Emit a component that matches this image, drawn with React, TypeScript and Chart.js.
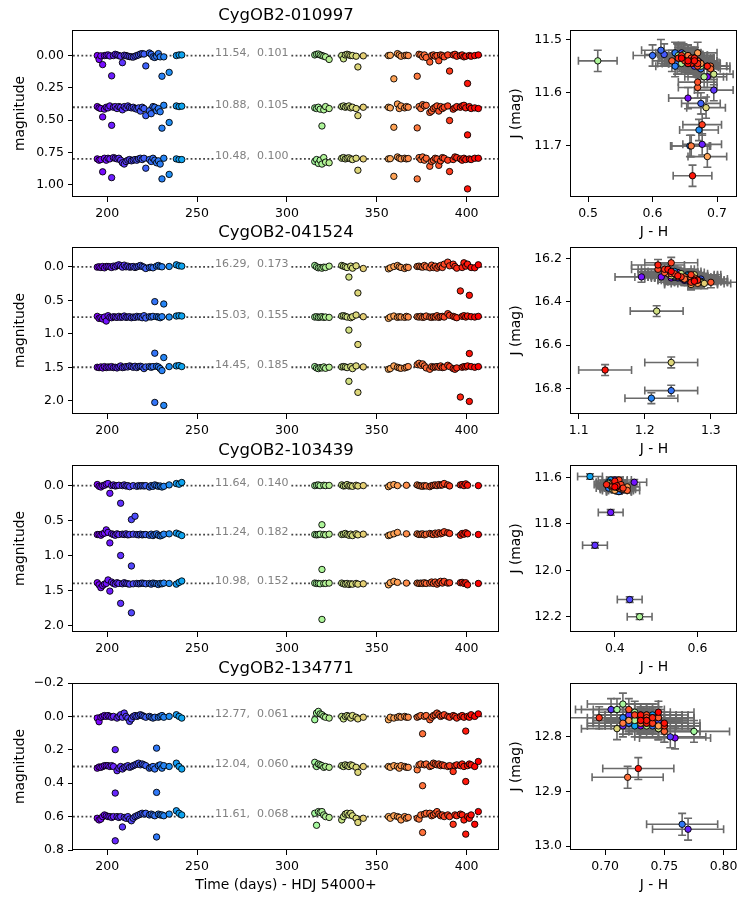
import React, { useEffect, useRef } from 'react';
import { Chart, registerables } from 'chart.js';
Chart.register(...registerables);

const FONT = "'DejaVu Sans', sans-serif";
Chart.defaults.font.family = FONT;

// ---------------- DATA ----------------
const STAR_NAMES = ['CygOB2-010997', 'CygOB2-041524', 'CygOB2-103439', 'CygOB2-134771'];

// observation epochs (days, HJD 54000+)
const TIMES = [
  194.5, 195.5, 196.5, 197.5, 198.5, 199.5, 200.5, 201.5, 202.5, 203.5,
  204.5, 205.5, 206.5, 207.5, 208.5, 209.5, 210.5, 211.5, 212.5, 213.5,
  214.5, 215.5, 216.5, 217.5, 218.5, 219.5, 220.5, 221.5, 223.5, 224.5,
  225.5, 226.5, 227.5, 228.5, 229.5, 230.5, 231.5, 234.5, 238.5, 240.0,
  241.5,
  315.5, 316.5, 317.5, 318.5, 319.5, 320.5, 321.5, 323.5, 330.5, 331.5,
  332.5, 333.5, 334.5, 335.5, 336.5, 338.5, 339.5, 342.5,
  356.5, 357.5, 359.5, 361.5, 362.5, 363.5, 365.5, 366.5, 367.5, 372.5,
  373.5, 374.5, 375.5, 376.5, 377.5, 379.5, 380.5, 381.5, 382.5, 383.5,
  384.5, 385.5, 386.5, 387.5, 389.5, 390.5, 392.5, 393.5, 394.5, 396.5,
  397.5, 398.5, 399.5, 400.5, 401.5, 402.5, 404.5, 406.5,
];

// magnitude relative to median, in mmag (positive = fainter); null = no measurement
const J_010997 = [
  0, 30, 2, 70, 0, -2, -5, 3, 157, 0, -10, -5, 0, 5, 55, -3, 0, 5, 8, 10, 12, 5, 0, -5, -12, -15, -12, 80, -20, -10, 10, 15, 5, -15, 10, 160, 10, 130, 0, -5, -5,
  -5, -10, -12, -5, 0, 5, 10, 30, 0, 25, -5, -10, -5, 0, 0, 5, 88, 2,
  0, -2, 180, -15, -5, 5, 0, -3, 0, 160, -10, -5, 10, -5, 15, 50, 0, -5, 5, 0, 40, -5, 0, 10, -5, 120, -5, -10, 5, 0, -5, 10, 5, 216, 0, 5, 0, -5,
];
const H_010997 = [
  -5, 5, 10, 75, 15, 0, 5, -10, 140, 0, -5, 10, -5, 0, 20, -5, 5, -10, 0, 5, 0, 10, 15, 5, 30, 0, 10, 65, 27, 50, -5, 0, 27, 10, 35, 162, -15, 118, -10, -5, -8,
  5, 10, 0, 15, 145, 20, -5, 10, -5, -10, 0, -5, -10, 5, 0, 10, 65, 0,
  0, 5, 155, -25, 10, -10, 5, -5, 0, 160, -5, 10, -20, -10, -15, 40, 30, 10, 0, -10, 30, -5, 10, 0, -10, 103, 15, 5, -5, 0, -10, -15, 5, 214, -5, 10, 5, 10,
];
const K_010997 = [
  0, 10, 5, 100, -5, 10, -5, 0, 145, -10, -5, 0, -5, 10, 30, 40, 20, 10, 5, 15, 10, 5, 10, 0, -5, 5, -5, 72, 5, 20, -5, 10, 30, 15, 40, 155, -5, 120, 0, 5, 5,
  20, 5, 35, 10, 40, -10, 25, 30, -5, -10, 0, -5, -8, 0, 5, -5, 88, 0,
  0, -2, 135, -15, -5, 0, -5, 0, -3, 155, -10, 5, -15, 10, -5, 57, 20, 10, -5, 0, 50, 15, -10, -5, 10, 98, 5, -15, -10, 0, 10, -5, 5, 232, 0, 5, -5, -5,
];

const J_041524 = [
  5, 0, 10, -5, 15, -5, -5, 0, 10, -10, 0, -20, -30, -15, 5, -25, 0, -10, 5, 0, -5, 10, 0, -10, -20, -5, 5, 25, 10, 5, 15, 520, -10, -20, -5, 0, 555, -5, -30, -15, -10,
  -20, 0, 15, 10, 20, 5, 10, -10, -20, -10, 0, 10, 153, -10, 20, -15, 390, 25,
  30, 15, -5, -20, 0, 10, 25, 5, 10, -5, -10, 0, 5, -20, 0, 15, -25, 10, -10, 20, -5, -20, 10, -40, -70, -15, -40, -5, 20, 360, 10, -60, -10, -40, 425, 10, 15, -30,
];
const H_041524 = [
  -10, 20, 10, 30, 0, 60, -20, 5, 10, -5, 0, 5, -10, 5, 0, -15, 5, 0, -5, 10, 0, 5, -10, 0, -5, 10, -20, 15, -5, 0, -10, 540, -5, 0, 10, -5, 605, 0, -15, -20, -15,
  0, -5, 5, 0, -5, 5, 0, 5, -15, -20, -10, 0, 195, 10, -5, -30, 410, -5,
  20, 0, -15, 5, -5, 0, 5, -10, 0, -5, 0, -10, 5, 0, -15, 0, 5, -5, 0, -20, 5, -5, -10, 0, -50, -25, -10, 0, 10, null, -10, -20, 0, -15, 545, -5, 0, -10,
];
const K_041524 = [
  0, 5, -5, 10, -10, 5, -5, 0, -10, 5, 0, 10, -5, -20, 5, 0, -10, -5, -20, -10, 0, -15, 5, -10, -15, -5, 20, -5, -10, 0, -10, 525, -15, -5, 20, 50, 570, -10, -20, -25, -10,
  -10, 10, 20, 5, 10, -5, 15, 0, -5, -10, -5, 5, 210, -10, 20, -20, 375, -5,
  30, 20, -20, 0, 10, 15, 10, 0, -10, -40, -60, -30, -50, -20, 10, 30, -10, 0, -5, -10, 0, -20, 5, 0, -30, -10, 20, 30, 10, 445, 0, -10, -5, -20, 510, -10, 0, -10,
];

const J_103439 = [
  -15, 10, 20, 0, -5, -20, -30, 110, 0, -10, 5, 0, -5, 252, 0, -10, 5, 0, 15, 486, 0, 438, 10, 0, 5, 0, 5, 0, 20, 0, 10, -10, 0, 10, 5, 20, 10, -10, -30, -20, -45,
  0, -5, -10, 0, 560, -5, 0, -3, -10, 5, 0, -15, 5, 0, 10, -5, 5, 0,
  15, -5, -15, 0, null, null, null, -5, null, -10, 0, 5, 10, 0, 5, 15, 0, -5, -10, 0, -15, -5, -10, -30, -10, 5, null, null, null, -10, -15, 0, -25, -5, null, null, null, 0,
];
const H_103439 = [
  0, 0, 10, -10, -20, -67, -30, 120, -10, 0, 10, -10, 0, 300, -5, 0, -10, 5, 0, 450, -5, null, 0, 5, -5, 5, 0, 0, 10, -5, 15, 0, -10, 10, 20, 10, -5, -10, -20, -5, 15,
  0, 5, 0, -5, 500, 0, 5, -5, 0, -5, -15, 0, 10, -5, 15, -10, 5, -5,
  15, 5, -10, -30, null, null, null, -10, null, -10, 0, -5, -10, 5, -5, -15, -5, 0, -20, -5, -25, -10, -20, -40, -25, -15, null, null, null, 10, -15, -5, -25, -10, null, null, null, 0,
];
const K_103439 = [
  -10, 20, 60, 30, 10, 0, -50, 110, -20, 0, 10, -10, 0, 285, 5, -10, 0, 5, 10, 420, 5, null, 0, 5, 0, -5, 0, 5, 0, 10, -5, 0, 5, 15, 0, 5, -5, 0, 10, -15, -35,
  -5, 0, 0, 5, 515, 0, 0, -5, -5, 5, 10, 0, 15, 5, 10, 0, 10, 5,
  20, -10, -30, -15, null, null, null, -5, null, -5, 0, -5, 0, -10, 0, -5, -20, 0, -20, 10, -10, -30, -5, -30, -5, -10, null, null, null, -10, -15, 0, -10, 20, null, null, null, 0,
];

const J_134771 = [
  10, 32, 5, 0, -5, 0, -5, 0, 5, 0, 199, 10, 0, -10, 5, -20, 0, 10, 30, 15, 0, -5, 0, -5, -10, -5, 0, 5, 0, 5, 10, 5, 190, 5, 0, -5, 5, 0, -10, 0, 10,
  20, -20, -30, -15, -10, 0, 5, 10, 0, 15, 0, -5, 0, 10, -5, 5, 15, 5,
  20, 5, 10, 5, 0, 5, 0, 5, 5, 5, 0, -5, 104, 0, -5, 20, 5, -5, -10, -20, -10, 0, -5, -10, 0, 5, -5, 0, 10, 0, -5, 5, 88, 0, 5, -10, 0, -15,
];
const H_134771 = [
  10, 3, 5, 0, -5, -5, -5, 0, -5, 0, 159, 25, 10, 0, 15, 5, 0, -5, 5, 0, -5, -10, -15, -20, -10, -15, -10, -5, 10, 5, 0, 15, 155, -5, -10, 10, -5, 0, -20, 0, 15,
  -25, 0, -15, -10, -5, 5, 0, 5, -5, 0, -10, -5, 0, -10, -5, 5, 35, 0,
  0, 5, -5, 0, 10, -5, 0, 5, 5, 20, -10, -15, 115, -10, -15, 0, -5, -20, -15, -10, -15, -5, -10, -5, 0, -5, 30, -5, -10, -5, -15, 0, 90, -5, -15, -10, 0, -30,
];
const K_134771 = [
  10, 20, 15, 0, -10, -5, 0, 0, 5, 0, 145, 0, 5, 0, 62, 5, 10, 0, 15, 25, 10, 0, -5, -10, -15, -20, -15, -20, -10, -15, -10, -5, 122, -15, -10, -10, -5, -15, -35, -20, -10,
  -20, 52, -30, -25, -30, -10, 0, 5, 20, 0, -15, -20, -10, -20, -5, 10, 35, 10,
  0, 10, -5, 0, 5, 20, 0, 10, 5, 10, 15, -10, 95, -15, -20, -20, -5, -10, -20, -30, -15, -5, -10, 0, -10, 0, 46, -10, -5, -15, -10, 20, 105, 0, 10, -10, 46, -30,
];

const LC_J = [J_010997, J_041524, J_103439, J_134771];
const LC_H = [H_010997, H_041524, H_103439, H_134771];
const LC_K = [K_010997, K_041524, K_103439, K_134771];

// medians and scatter printed on the light curves
const MED_J = [11.54, 16.29, 11.64, 12.77];
const MED_H = [10.88, 15.03, 11.24, 12.04];
const MED_K = [10.48, 14.45, 10.98, 11.61];
const SIG_J = ['0.101', '0.173', '0.140', '0.061'];
const SIG_H = ['0.105', '0.155', '0.182', '0.060'];
const SIG_K = ['0.100', '0.185', '0.152', '0.068'];

// vertical offset between J, H, K light curves
const OFFSETS = [0.4, 0.75, 0.7, 0.3];

// photometric errors for colour-magnitude diagrams
const ERR_J = [0.02, 0.025, 0.012, 0.02];
const ERR_JH = [0.03, 0.04, 0.03, 0.03];

// axes
const LC_X_RANGE = [181, 418];
const LC_X_TICKS = [200, 250, 300, 350, 400];
const LC_X_LABELS = ['200', '250', '300', '350', '400'];
const LC_Y_RANGE = [[-0.198, 1.095], [-0.296, 2.198], [-0.295, 2.095], [-0.2, 0.8]];
const LC_Y_TICKS = [[0, 0.25, 0.5, 0.75, 1.0], [0, 0.5, 1, 1.5, 2], [0, 0.5, 1, 1.5, 2], [-0.2, 0, 0.2, 0.4, 0.6, 0.8]];
const LC_Y_LABELS = [
  ['0.00', '0.25', '0.50', '0.75', '1.00'],
  ['0.0', '0.5', '1.0', '1.5', '2.0'],
  ['0.0', '0.5', '1.0', '1.5', '2.0'],
  ['\u22120.2', '0.0', '0.2', '0.4', '0.6', '0.8'],
];
const LABEL_X = 260;

const CMD_X_RANGE = [[0.4735, 0.731], [1.0884, 1.3395], [0.294, 0.6955], [0.6712, 0.8113]];
const CMD_Y_RANGE = [[11.482, 11.796], [16.147, 16.918], [11.5455, 12.266], [12.7015, 13.007]];
const CMD_X_TICKS = [[0.5, 0.6, 0.7], [1.1, 1.2, 1.3], [0.4, 0.6], [0.7, 0.75, 0.8]];
const CMD_X_LABELS = [['0.5', '0.6', '0.7'], ['1.1', '1.2', '1.3'], ['0.4', '0.6'], ['0.70', '0.75', '0.80']];
const CMD_Y_TICKS = [[11.5, 11.6, 11.7], [16.2, 16.4, 16.6, 16.8], [11.6, 11.8, 12.0, 12.2], [12.8, 12.9, 13.0]];
const CMD_Y_LABELS = [['11.5', '11.6', '11.7'], ['16.2', '16.4', '16.6', '16.8'], ['11.6', '11.8', '12.0', '12.2'], ['12.8', '12.9', '13.0']];

// ---------------- LAYOUT / STYLE ----------------
const PLOT_TOPS = [30, 247, 465, 683];
const PLOT_H = 167;
const PAD_TOP = 28;
const CANVAS_H = 245;
const TICK_FONT = 12.5;
const LABEL_FONT = 13.9;
const TITLE_FONT = 16.5;

const T_MIN = Math.min(...TIMES);
const T_MAX = Math.max(...TIMES);
function rainbow(t: number): string {
  const f = (t - T_MIN) / (T_MAX - T_MIN);
  const r = Math.min(1, Math.abs(2 * f - 0.5));
  const g = Math.sin(Math.PI * f);
  const b = Math.cos((Math.PI * f) / 2);
  return `rgb(${Math.round(r * 255)},${Math.round(g * 255)},${Math.round(b * 255)})`;
}

function axis(opts: any) {
  const { min, max, ticks, labels, reverse, size, isY, title, titlePad } = opts;
  return {
    type: 'linear',
    min,
    max,
    reverse: !!reverse,
    afterBuildTicks: (s: any) => {
      s.ticks = ticks.map((v: number) => ({ value: v }));
    },
    afterFit: (s: any) => {
      if (isY) s.width = size;
      else s.height = size;
    },
    ticks: {
      autoSkip: false,
      maxRotation: 0,
      minRotation: 0,
      padding: 4,
      color: '#000',
      font: { family: FONT, size: TICK_FONT },
      callback: (_v: any, i: number) => labels[i],
    },
    grid: {
      display: true,
      drawOnChartArea: false,
      drawTicks: true,
      tickLength: 5,
      tickColor: '#000',
      tickWidth: 1,
    },
    border: { display: false },
    title: title
      ? {
          display: true,
          text: title,
          color: '#000',
          font: { family: FONT, size: LABEL_FONT },
          padding: isY ? { top: titlePad, bottom: 0 } : { top: 0, bottom: titlePad },
        }
      : { display: false },
  };
}

const framePlugin = {
  id: 'frame',
  afterDraw(chart: any) {
    const { ctx, chartArea: a } = chart;
    ctx.save();
    ctx.strokeStyle = '#000';
    ctx.lineWidth = 1;
    const l = Math.round(a.left) - 0.5;
    const t = Math.round(a.top) + 0.5;
    const r = Math.round(a.right) - 0.5;
    const b = Math.round(a.bottom) - 0.5;
    ctx.strokeRect(l, t, r - l, b - t);
    ctx.restore();
  },
};

function lcConfig(s: number, last: boolean) {
  const off = OFFSETS[s];
  const bands = [LC_J[s], LC_H[s], LC_K[s]];
  const datasets: any[] = [];
  bands.forEach((arr, b) => {
    const pts: any[] = [];
    const cols: string[] = [];
    arr.forEach((v: number | null, i: number) => {
      if (v === null) return;
      pts.push({ x: TIMES[i], y: v / 1000 + b * off });
      cols.push(rainbow(TIMES[i]));
    });
    datasets.push({
      data: pts,
      pointRadius: 3.2,
      pointBackgroundColor: cols,
      pointBorderColor: '#000',
      pointBorderWidth: 0.9,
      order: 1,
    });
  });
  for (let b = 0; b < 3; b++) {
    datasets.push({
      data: [
        { x: LC_X_RANGE[0], y: b * off },
        { x: LC_X_RANGE[1], y: b * off },
      ],
      showLine: true,
      borderColor: '#444',
      borderWidth: 1.8,
      borderDash: [1.8, 2.4],
      pointRadius: 0,
      order: 5,
    });
  }
  const texts = [
    `${MED_J[s].toFixed(2)},  ${SIG_J[s]}`,
    `${MED_H[s].toFixed(2)},  ${SIG_H[s]}`,
    `${MED_K[s].toFixed(2)},  ${SIG_K[s]}`,
  ];
  const labelPlugin = {
    id: 'lbl',
    afterDatasetsDraw(chart: any) {
      const { ctx, scales } = chart;
      ctx.save();
      ctx.font = `11px ${FONT}`;
      texts.forEach((txt, b) => {
        const px = scales.x.getPixelForValue(LABEL_X);
        const py = scales.y.getPixelForValue(b * off);
        const w = ctx.measureText(txt).width;
        ctx.fillStyle = '#fff';
        ctx.fillRect(px - 1, py - 9, w + 2, 11);
        ctx.fillStyle = '#808080';
        ctx.textBaseline = 'alphabetic';
        ctx.textAlign = 'left';
        ctx.fillText(txt, px, py + 0.5);
      });
      // title
      const a = chart.chartArea;
      ctx.fillStyle = '#000';
      ctx.font = `${TITLE_FONT}px ${FONT}`;
      ctx.textAlign = 'center';
      ctx.textBaseline = 'middle';
      ctx.fillText(STAR_NAMES[s], (a.left + a.right) / 2, a.top - 14);
      ctx.restore();
    },
  };
  return {
    type: 'scatter',
    data: { datasets },
    options: {
      responsive: false,
      animation: false,
      devicePixelRatio: 1,
      events: [],
      layout: { padding: { top: PAD_TOP, left: 0, right: 6, bottom: 0 } },
      plugins: { legend: { display: false }, tooltip: { enabled: false }, title: { display: false } },
      scales: {
        x: axis({
          min: LC_X_RANGE[0],
          max: LC_X_RANGE[1],
          ticks: LC_X_TICKS,
          labels: LC_X_LABELS,
          size: CANVAS_H - PAD_TOP - PLOT_H,
          isY: false,
          title: last ? 'Time (days) - HDJ 54000+' : null,
          titlePad: 6,
        }),
        y: axis({
          min: LC_Y_RANGE[s][0],
          max: LC_Y_RANGE[s][1],
          ticks: LC_Y_TICKS[s],
          labels: LC_Y_LABELS[s],
          reverse: true,
          size: 73,
          isY: true,
          title: 'magnitude',
          titlePad: 11.7,
        }),
      },
    },
    plugins: [labelPlugin, framePlugin],
  };
}

function cmdConfig(s: number) {
  const pts: any[] = [];
  const cols: string[] = [];
  TIMES.forEach((t, i) => {
    const j = LC_J[s][i];
    const h = LC_H[s][i];
    if (j === null || h === null) return;
    const J = MED_J[s] + j / 1000;
    const H = MED_H[s] + h / 1000;
    pts.push({ x: J - H, y: J });
    cols.push(rainbow(t));
  });
  const errPlugin = {
    id: 'err',
    beforeDatasetsDraw(chart: any) {
      const { ctx, scales, chartArea: a } = chart;
      ctx.save();
      ctx.beginPath();
      ctx.rect(a.left, a.top, a.right - a.left, a.bottom - a.top);
      ctx.clip();
      ctx.strokeStyle = '#6a6a6a';
      ctx.lineWidth = 1.6;
      const cap = 4;
      pts.forEach((p) => {
        const x = scales.x.getPixelForValue(p.x);
        const y = scales.y.getPixelForValue(p.y);
        const x0 = scales.x.getPixelForValue(p.x - ERR_JH[s]);
        const x1 = scales.x.getPixelForValue(p.x + ERR_JH[s]);
        const y0 = scales.y.getPixelForValue(p.y - ERR_J[s]);
        const y1 = scales.y.getPixelForValue(p.y + ERR_J[s]);
        ctx.beginPath();
        ctx.moveTo(x0, y);
        ctx.lineTo(x1, y);
        ctx.moveTo(x, y0);
        ctx.lineTo(x, y1);
        ctx.moveTo(x0, y - cap);
        ctx.lineTo(x0, y + cap);
        ctx.moveTo(x1, y - cap);
        ctx.lineTo(x1, y + cap);
        ctx.moveTo(x - cap, y0);
        ctx.lineTo(x + cap, y0);
        ctx.moveTo(x - cap, y1);
        ctx.lineTo(x + cap, y1);
        ctx.stroke();
      });
      ctx.restore();
    },
  };
  return {
    type: 'scatter',
    data: {
      datasets: [
        {
          data: pts,
          pointRadius: 3.2,
          pointBackgroundColor: cols,
          pointBorderColor: '#000',
          pointBorderWidth: 0.9,
        },
      ],
    },
    options: {
      responsive: false,
      animation: false,
      devicePixelRatio: 1,
      events: [],
      layout: { padding: { top: PAD_TOP, left: 0, right: 11, bottom: 0 } },
      plugins: { legend: { display: false }, tooltip: { enabled: false }, title: { display: false } },
      scales: {
        x: axis({
          min: CMD_X_RANGE[s][0],
          max: CMD_X_RANGE[s][1],
          ticks: CMD_X_TICKS[s],
          labels: CMD_X_LABELS[s],
          size: CANVAS_H - PAD_TOP - PLOT_H,
          isY: false,
          title: 'J - H',
          titlePad: 6,
        }),
        y: axis({
          min: CMD_Y_RANGE[s][0],
          max: CMD_Y_RANGE[s][1],
          ticks: CMD_Y_TICKS[s],
          labels: CMD_Y_LABELS[s],
          reverse: true,
          size: 66,
          isY: true,
          title: 'J (mag)',
          titlePad: 3.3,
        }),
      },
    },
    plugins: [errPlugin, framePlugin],
  };
}

function ChartBox(props: { left: number; top: number; width: number; height: number; make: () => any }) {
  const ref = useRef<HTMLCanvasElement | null>(null);
  useEffect(() => {
    const chart = new Chart(ref.current as HTMLCanvasElement, props.make());
    return () => chart.destroy();
  }, []);
  return (
    <canvas
      ref={ref}
      width={props.width}
      height={props.height}
      style={{ position: 'absolute', left: props.left, top: props.top, width: props.width, height: props.height }}
    />
  );
}

export default function App() {
  return (
    <div style={{ position: 'absolute', left: 0, top: 0, width: 748, height: 903, background: '#fff', overflow: 'hidden' }}>
      {STAR_NAMES.map((name, s) => (
        <React.Fragment key={name}>
          <ChartBox left={0} top={PLOT_TOPS[s] - PAD_TOP} width={505} height={CANVAS_H} make={() => lcConfig(s, s === 3)} />
          <ChartBox left={505} top={PLOT_TOPS[s] - PAD_TOP} width={243} height={CANVAS_H} make={() => cmdConfig(s)} />
        </React.Fragment>
      ))}
    </div>
  );
}
